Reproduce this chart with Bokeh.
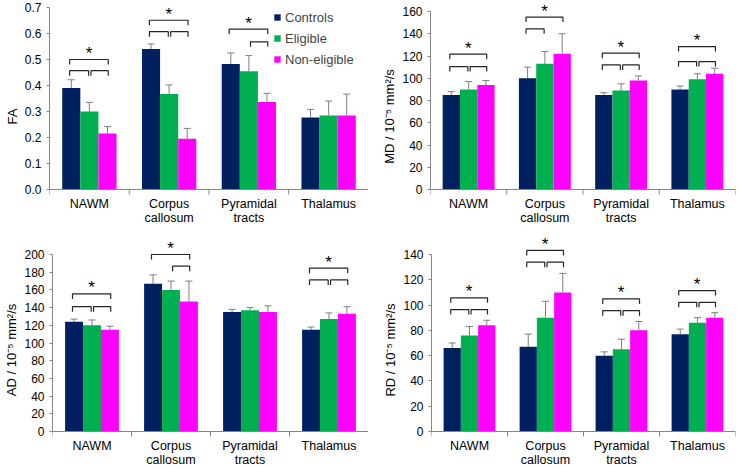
from bokeh.plotting import figure
from bokeh.layouts import column, row
from bokeh.models import (Range1d, FixedTicker, Whisker, TeeHead, ColumnDataSource,
                          Legend, LegendItem, PrintfTickFormatter)
from bokeh.embed import file_html
from bokeh.resources import INLINE
from bokeh.core.properties import value

# ---------------- data ----------------
regions_line1 = ["NAWM", "Corpus", "Pyramidal", "Thalamus"]
regions_line2 = ["", "callosum", "tracts", ""]
groups = ["Controls", "Eligible", "Non-eligible"]
colors = ["#002060", "#00B050", "#FF00FF"]

fa_controls = [0.390, 0.540, 0.483, 0.277]
fa_eligible = [0.300, 0.367, 0.455, 0.285]
fa_noneligible = [0.215, 0.195, 0.337, 0.285]
fa_sd_controls = [0.032, 0.020, 0.042, 0.031]
fa_sd_eligible = [0.035, 0.035, 0.060, 0.055]
fa_sd_noneligible = [0.027, 0.040, 0.033, 0.082]

md_controls = [85, 100, 85, 90]
md_eligible = [90, 113, 89, 99]
md_noneligible = [94, 122, 98, 104]
md_sd_controls = [3, 10, 2, 3]
md_sd_eligible = [7, 11, 6, 5]
md_sd_noneligible = [4, 18, 4, 5]

ad_controls = [124, 167, 135, 115]
ad_eligible = [120, 160, 137, 127]
ad_noneligible = [115, 147, 135, 133]
ad_sd_controls = [3, 10, 3, 3]
ad_sd_eligible = [6, 10, 3, 7]
ad_sd_noneligible = [4, 23, 7, 8]

rd_controls = [66, 67, 60, 77]
rd_eligible = [76, 90, 65, 86]
rd_noneligible = [84, 110, 80, 90]
rd_sd_controls = [4, 10, 3, 4]
rd_sd_eligible = [7, 13, 8, 4]
rd_sd_noneligible = [4, 15, 7, 4]

# significance brackets: (region index, first group, last group, level)
fa_brackets = [(0, 0, 2, 0.500), (0, 0, 1, 0.457), (0, 1, 2, 0.457),
               (1, 0, 2, 0.651), (1, 0, 1, 0.607), (1, 1, 2, 0.607),
               (2, 0, 2, 0.617), (2, 1, 2, 0.568)]
md_brackets = [(0, 0, 2, 121.6), (0, 0, 1, 110.5), (0, 1, 2, 110.5),
               (1, 0, 2, 155.0), (1, 0, 1, 144.4),
               (2, 0, 2, 122.5), (2, 0, 1, 112.0), (2, 1, 2, 112.0),
               (3, 0, 2, 128.5), (3, 0, 1, 115.0), (3, 1, 2, 115.0)]
ad_brackets = [(0, 0, 2, 155.5), (0, 0, 1, 141.0), (0, 1, 2, 141.0),
               (1, 0, 2, 200.0), (1, 1, 2, 186.8),
               (3, 0, 2, 184.5), (3, 0, 1, 171.3), (3, 1, 2, 171.3)]
rd_brackets = [(0, 0, 2, 105.7), (0, 0, 1, 96.4), (0, 1, 2, 96.4),
               (1, 0, 2, 143.2), (1, 0, 1, 133.9), (1, 1, 2, 133.9),
               (2, 0, 2, 104.9), (2, 0, 1, 95.6), (2, 1, 2, 95.6),
               (3, 0, 2, 111.5), (3, 0, 1, 102.2), (3, 1, 2, 102.2)]

fa_ticks = [0.0, 0.1, 0.2, 0.3, 0.4, 0.5, 0.6, 0.7]
md_ticks = [0, 20, 40, 60, 80, 100, 120, 140, 160]
ad_ticks = [0, 20, 40, 60, 80, 100, 120, 140, 160, 180, 200]
rd_ticks = [0, 20, 40, 60, 80, 100, 120, 140]

FONT = "Liberation Sans"
AXIS_GRAY = "#868686"
BW = 0.227
N_CAT = len(regions_line1)


def cx(i, g):
    return i + 0.5 + (g - 1) * BW


def make_panel(means, sds, brackets, ticks, ylabel, fmt, width, height,
               bl, br, zero_px, top_px, legend=False):
    """zero_px / top_px: pixel rows (from figure top) of the value 0 and of the top tick."""
    top_val = ticks[-1]
    scale = (zero_px - top_px) / top_val          # pixels per data unit
    y_start = -(height - zero_px) / scale
    y_end = top_val + top_px / scale
    px = 1.0 / scale                              # data units per pixel

    p = figure(width=width, height=height, output_backend="svg", toolbar_location=None,
               x_range=Range1d(0, N_CAT), y_range=Range1d(y_start, y_end),
               x_axis_location=None,
               min_border_left=bl, min_border_right=br, min_border_top=0, min_border_bottom=0)
    p.outline_line_color = None
    p.xgrid.visible = False
    p.ygrid.visible = False
    p.background_fill_color = "white"
    p.border_fill_color = "white"

    rends = []
    for g in range(3):
        xs = [cx(i, g) for i in range(N_CAT)]
        tops = means[g]
        src = ColumnDataSource(dict(x=xs, top=tops,
                                    upper=[t + s for t, s in zip(tops, sds[g])]))
        w = Whisker(base="x", upper="upper", lower="top", source=src,
                    line_color="#7f7f7f", line_width=1,
                    upper_head=TeeHead(size=7, line_color="#7f7f7f", line_width=1),
                    lower_head=None)
        p.add_layout(w)
        r = p.vbar(x="x", top="top", width=BW, source=src, fill_color=colors[g],
                   line_color=None)
        rends.append(r)

    # category axis (baseline, ticks between categories, two-line names)
    bounds = list(range(N_CAT + 1))
    p.segment(x0=[0], y0=[0], x1=[N_CAT], y1=[0], line_color=AXIS_GRAY, line_width=1)
    p.segment(x0=bounds, y0=[0] * len(bounds), x1=bounds, y1=[-5 * px] * len(bounds),
              line_color=AXIS_GRAY, line_width=1)
    centers = [i + 0.5 for i in range(N_CAT)]
    p.text(x=centers, y=[-14 * px] * N_CAT, text=regions_line1, text_align="center",
           text_baseline="middle", text_font=value(FONT), text_font_size="12.5px",
           text_color="black")
    c2 = [c for c, t in zip(centers, regions_line2) if t]
    t2 = [t for t in regions_line2 if t]
    p.text(x=c2, y=[-28.5 * px] * len(c2), text=t2, text_align="center",
           text_baseline="middle", text_font=value(FONT), text_font_size="12.5px",
           text_color="black")

    # brackets
    d = 5 * px
    bxs, bys, sx, sy = [], [], [], []
    for (i, g1, g2, lvl) in brackets:
        x1 = cx(i, g1) - 0.02
        x2 = cx(i, g2) + 0.01
        if g1 == 0 and g2 == 1:
            x2 = cx(i, 1) - 0.01
        if g1 == 1 and g2 == 2:
            x1 = cx(i, 1) + 0.02
        bxs.append([x1, x1, x2, x2])
        bys.append([lvl - d, lvl, lvl, lvl - d])
        if g1 == 0 and g2 == 2:
            sx.append((x1 + x2) / 2)
            sy.append(lvl)
    p.multi_line(xs=bxs, ys=bys, line_color="#262626", line_width=1.2)
    p.text(x=sx, y=sy, text=["*"] * len(sx), text_align="center",
           text_baseline="middle", y_offset=-6, text_font=value(FONT),
           text_font_size="17px", text_color="black")

    # y axis
    yax = p.yaxis[0]
    yax.ticker = FixedTicker(ticks=ticks)
    yax.bounds = (0, top_val)
    yax.formatter = PrintfTickFormatter(format=fmt)
    yax.axis_line_color = AXIS_GRAY
    yax.major_tick_line_color = AXIS_GRAY
    yax.major_tick_out = 3
    yax.major_tick_in = 0
    yax.minor_tick_line_color = None
    yax.major_label_standoff = 5
    yax.major_label_text_font = FONT
    yax.major_label_text_font_size = "12px"
    yax.major_label_text_color = "black"
    yax.axis_label = ylabel
    yax.axis_label_text_font = FONT
    yax.axis_label_text_font_size = "13px"
    yax.axis_label_text_font_style = "normal"
    yax.axis_label_text_color = "black"
    yax.axis_label_standoff = 2

    if legend:
        items = [LegendItem(label=groups[g], renderers=[rends[g]]) for g in range(3)]
        lg = Legend(items=items, location=(224, height - 69), glyph_width=8,
                    glyph_height=8, label_height=20, label_standoff=4, spacing=1,
                    padding=0, margin=0, label_text_font=FONT, label_text_font_size="13px",
                    background_fill_alpha=0, border_line_alpha=0)
        p.add_layout(lg)
    return p


# top row: figure rows 0..232, bottom row 232..467
p_fa = make_panel([fa_controls, fa_eligible, fa_noneligible],
                  [fa_sd_controls, fa_sd_eligible, fa_sd_noneligible],
                  fa_brackets, fa_ticks, "FA", "%.1f", 368, 232, 49, 0, 189, 7, legend=True)
p_md = make_panel([md_controls, md_eligible, md_noneligible],
                  [md_sd_controls, md_sd_eligible, md_sd_noneligible],
                  md_brackets, md_ticks, "MD / 10⁻⁵ mm²/s", "%d", 369, 232, 62, 2, 189, 11)
p_ad = make_panel([ad_controls, ad_eligible, ad_noneligible],
                  [ad_sd_controls, ad_sd_eligible, ad_sd_noneligible],
                  ad_brackets, ad_ticks, "AD / 10⁻⁵ mm²/s", "%d", 368, 235, 52, 0, 199, 22)
p_rd = make_panel([rd_controls, rd_eligible, rd_noneligible],
                  [rd_sd_controls, rd_sd_eligible, rd_sd_noneligible],
                  rd_brackets, rd_ticks, "RD / 10⁻⁵ mm²/s", "%d", 369, 235, 63, 2, 199, 22)

layout = column(row(p_fa, p_md), row(p_ad, p_rd))
open("out.html", "w").write(file_html(layout, INLINE))
